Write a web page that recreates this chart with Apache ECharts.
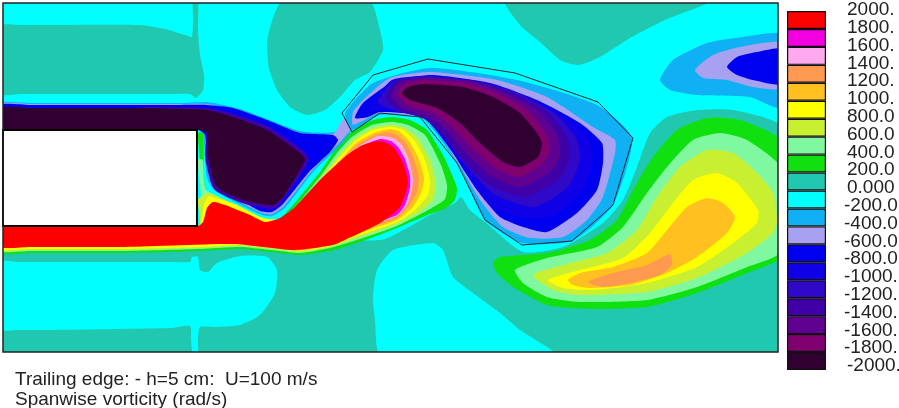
<!DOCTYPE html>
<html><head><meta charset="utf-8">
<style>html,body{margin:0;padding:0;background:#fff}#c{width:899px;height:408px}</style>
<script src="https://cdn.jsdelivr.net/npm/echarts@6/dist/echarts.min.js"></script>
</head><body><div id="c"></div>
<script>
const tickLabels=['2000.','1800.','1600.','1400.','1200.','1000.','800.0','600.0','400.0','200.0','0.000','-200.0','-400.0','-600.0','-800.0','-1000.','-1200.','-1400.','-1600.','-1800.','-2000.'];
const bandColors=['#ff0000','#f400e0','#ffaaee','#ff9950','#ffc020','#ffff00','#c8f030','#80f8a0','#10e010','#20c8b0','#00ffff','#10b0f4','#a8a0f0','#0000f0','#1000e8','#3008c8','#4000a8','#600090','#800070','#300030'];
const bandKeys=[1900,1700,1500,1300,1100,900,700,500,300,100,-100,-300,-500,-700,-900,-1100,-1300,-1500,-1700,-1900];

// contour outlines, in the picture's own x / y units
const cBase=[[0,0],[782,0],[782,356],[0,356]];
const cTealTL=[[0,26],[20,25],[40,25],[140,25],[165,29],[188,36],[192,37],[193,20],[193,0],[198,0],[198,30],[200,55],[204,75],[203,90],[196,98],[190,94],[170,94],[20,94],[0,94]];
const cTealTC=[[283,0],[273,18],[267,42],[269,68],[277,90],[290,107],[307,115],[325,110],[340,97],[355,80],[370,72],[383,50],[380,30],[369,0]];
const cTealTR=[[505,0],[520,25],[540,42],[560,60],[578,65],[600,57],[630,38],[665,20],[712,0]];
const cTealLow=[[0,245],[380,240],[430,215],[455,203],[461,197],[470,210],[485,222],[523,252],[563,247],[603,223],[623,200],[637,167],[650,133],[667,117],[697,110],[733,110],[782,128],[782,356],[0,356]];
const cCyanLL=[[0,262],[20,262],[170,262],[190,262],[192,257],[198,257],[200,270],[208,272],[217,263],[240,256],[267,257],[277,270],[275,293],[260,315],[240,325],[215,327],[200,327],[198,340],[198,356],[193,356],[191,340],[190,326],[170,328],[47,330],[20,330],[0,329]];
const cCyanLM=[[381,356],[375,320],[373,297],[377,270],[393,250],[433,243],[443,250],[453,277],[473,293],[500,313],[520,330],[557,356]];

const cGreen=[[0,253],[30,253],[120,253],[200,251],[240,249],[280,253],[300,255],[330,251],[363,241],[397,228],[430,214],[446,208],[455,200],[457,188],[450,170],[443,155],[427,130],[410,120],[390,117],[370,121],[350,133],[335,150],[320,172],[293,205],[278,220],[263,222],[235,208],[215,197],[206,190],[204,175],[203,133],[198,133],[198,226],[0,226]];
const cLightGreen=[[0,251],[30,251],[120,251],[200,249],[240,247],[280,251],[300,253],[330,248],[363,238],[397,226],[430,209],[445,199],[447,185],[441,165],[425,135],[408,125],[392,122],[372,125],[352,137],[337,153],[322,174],[295,207],[279,221],[263,220],[235,206],[215,195],[206,190],[204,180],[203,160],[198,160],[198,226],[0,226]];
const cLime=[[0,250],[30,250],[120,250],[200,248],[240,246],[280,250],[300,252],[330,247],[363,236],[397,224],[420,212],[433,200],[436,183],[430,160],[418,138],[405,128],[392,125],[372,128],[354,139],[339,155],[323,175],[296,208],[280,220],[263,219],[236,205],[216,196],[208,193],[203,195],[198,200],[198,226],[0,226]];
const cYellow=[[0,249],[30,249],[120,249],[200,247],[240,245],[280,249],[300,251],[330,246],[363,234],[397,222],[415,210],[428,195],[430,180],[424,158],[414,140],[403,130],[392,127],[373,130],[355,141],[340,157],[324,177],[297,209],[281,219],[263,218],[237,205],[215,198],[209,196],[204,205],[201,224],[198,226],[0,226]];
const cAmber=[[290,250],[330,245],[363,232],[397,220],[412,208],[421,193],[424,178],[418,157],[409,141],[400,132],[390,129],[374,133],[356,143],[341,159],[325,179],[298,210],[290,215]];
const cOrange=[[300,249],[330,244],[363,230],[397,218],[409,206],[417,192],[419,178],[413,157],[405,142],[397,135],[387,132],[375,135],[357,145],[342,161],[326,181],[300,210]];
const cPink=[[300,240],[330,243],[363,228],[397,216],[407,205],[412,190],[413,178],[408,157],[401,144],[393,138],[382,136],[375,137],[358,147],[343,163],[327,183],[302,210]];
const cMagenta=[[310,235],[332,242],[363,227],[397,215],[405,205],[410,188],[410,176],[405,159],[398,147],[391,141],[380,139],[360,147],[345,161],[328,180]];
const cRed=[[0,226],[198,226],[203,222],[207,208],[213,202],[225,205],[250,215],[265,222],[280,218],[295,207],[320,180],[347,155],[363,145],[380,141],[393,147],[403,163],[408,183],[400,207],[380,223],[347,239],[333,245],[293,250],[233,244],[120,247],[30,247],[0,247]];

const cGreen2=[[493,263],[500,257],[547,253],[590,240],[617,220],[633,190],[653,157],[677,130],[707,118],[740,120],[782,142],[782,256],[747,273],[697,293],[647,307],[590,309],[547,305],[513,287],[497,273]];
const cLightGreen2=[[515,270],[547,258],[597,247],[623,227],[647,193],[667,167],[693,140],[720,133],[747,140],[782,169],[782,251],[747,267],[697,287],[647,300],[580,302],[547,297],[523,283]];
const cLime2=[[533,275],[563,265],[607,253],[637,230],[657,197],[680,167],[707,150],[733,153],[757,173],[773,193],[777,220],[773,233],[747,253],[697,278],[647,292],[580,295],[553,290]];
const cYellow2=[[548,280],[580,270],[623,258],[650,233],[673,203],[693,180],[717,173],[737,183],[758,210],[757,223],[733,243],[697,267],[647,283],[593,290],[563,288]];
const cAmber2=[[568,280],[580,273],[613,267],[647,253],[667,230],[687,207],[707,198],[723,203],[735,217],[727,233],[697,257],[667,273],[630,285],[590,288],[573,285]];
const cOrange2=[[588,282],[613,273],[647,265],[670,254],[672,265],[660,275],[630,283],[603,287]];

const cSkyTR=[[660,80],[673,60],[707,43],[743,37],[782,35],[782,108],[750,97],[697,95],[670,90]];
const cLavTR=[[695,70],[713,55],[740,47],[782,43],[782,88],[753,87],[727,80],[703,78]];
const cBlueTR=[[727,67],[737,57],[757,52],[782,49],[782,84],[753,80],[737,75]];

const cSkyW=[[0,103],[30,103],[180,103],[207,102],[240,109],[267,119],[300,131],[335,132],[345,120],[352,112],[360,115],[345,140],[313,172],[285,208],[272,216],[262,215],[235,202],[214,190],[207,178],[203,133],[198,130],[0,130]];
const cLavW=[[0,104],[30,104],[180,104],[207,104],[240,111],[267,121],[300,133],[333,134],[343,120],[353,115],[356,122],[342,140],[311,172],[284,206],[272,214],[262,213],[236,200],[216,188],[209,177],[205,133],[198,130],[0,130]];
const cBlueW=[[0,105],[30,105],[180,105],[207,105],[233,108],[267,120],[300,133],[333,135],[338,140],[330,152],[309,172],[283,204],[272,212],[260,211],[237,198],[218,186],[210,175],[205,135],[198,130],[0,130]];
const cIndigoW=[[0,108],[30,108],[130,108],[153,107],[207,108],[233,114],[267,126],[300,148],[309,160],[290,190],[277,207],[270,209],[242,203],[214,189],[205,157],[204,130],[0,130]];
const cDarkW=[[0,108],[30,108],[130,108],[155,108],[207,110],[233,117],[267,130],[300,153],[305,160],[283,197],[273,205],[243,200],[217,187],[208,157],[207,133],[198,130],[0,130]];

const cSkyV=[[345,113],[373,83],[430,68],[517,80],[597,105],[632,138],[613,205],[572,241],[522,243],[485,220],[458,165],[422,118],[380,115],[352,130]];
const cLavV=[[353,112],[363,100],[390,78],[430,72],[497,80],[547,97],[593,127],[615,140],[615,153],[603,197],[587,220],[563,237],[530,238],[503,227],[480,200],[458,163],[427,120],[380,113],[353,125]];
const cBlueV=[[355,118],[363,103],[393,82],[430,75],[490,83],[537,100],[580,123],[602,143],[603,163],[597,190],[577,213],[547,232],[523,227],[500,217],[477,190],[453,153],[423,117],[380,112],[368,117]];
const cBlue2V=[[368,110],[392,80],[430,76],[485,83],[528,97],[570,120],[590,143],[592,165],[582,190],[555,215],[520,217],[490,205],[465,172],[445,140],[425,118],[385,110]];
const cIndigoV=[[378,102],[394,81],[427,76],[480,82],[518,93],[557,115],[577,140],[580,160],[568,187],[535,207],[495,195],[465,165],[443,135],[425,119],[390,109]];
const cPurpleV=[[386,97],[397,81],[425,77],[475,81],[510,92],[547,112],[567,137],[570,157],[558,180],[525,197],[490,185],[460,157],[440,132],[423,118],[398,110]];
const cPurple2V=[[391,95],[401,82],[423,78],[470,81],[503,92],[537,110],[557,135],[560,155],[550,172],[520,187],[490,175],[465,152],[446,130],[428,117],[402,108]];
const cMaroonV=[[397,94],[405,84],[423,80],[465,83],[497,93],[527,110],[547,135],[550,150],[543,163],[520,177],[498,170],[472,148],[452,127],[433,113],[408,105]];
const cDarkV=[[402,93],[408,87],[423,84],[463,87],[493,97],[520,113],[537,133],[542,143],[538,157],[520,167],[503,162],[480,143],[460,123],[437,108],[410,100]];

const blackOutline=[[342,113],[373,75],[428,59],[515,73],[598,102],[633,138],[613,205],[602,215],[572,241],[522,245],[485,220],[457,163],[420,117],[380,113],[352,132]];
const plateBox=[[3,130],[197,130],[197,226],[3,226]];
const frameBox=[[3,3],[778,3],[778,352],[3,352]];

// drawing order and band of each outline
const layers=[
 [cBase,-100],[cTealTL,100],[cTealTC,100],[cTealTR,100],[cTealLow,100],[cCyanLL,-100],[cCyanLM,-100],
 [cGreen,300],[cLightGreen,500],[cLime,700],[cYellow,900],[cAmber,1100],[cOrange,1300],[cPink,1500],[cMagenta,1700],[cRed,1900],
 [cGreen2,300],[cLightGreen2,500],[cLime2,700],[cYellow2,900],[cAmber2,1100],[cOrange2,1300],
 [cSkyTR,-300],[cLavTR,-500],[cBlueTR,-700],
 [cSkyW,-300],[cLavW,-500],[cBlueW,-700],[cIndigoW,-1300],[cDarkW,-1900],
 [cSkyV,-300],[cLavV,-500],[cBlueV,-700],[cBlue2V,-900],[cIndigoV,-1100],[cPurpleV,-1300],[cPurple2V,-1500],[cMaroonV,-1700],[cDarkV,-1900]
];
const colorOf=k=>bandColors[bandKeys.indexOf(k)];

const chart=echarts.init(document.getElementById('c'));
chart.setOption({
 animation:false,backgroundColor:'#fff',
 title:{text:'Trailing edge: - h=5 cm:  U=100 m/s\nSpanwise vorticity (rad/s)',left:10,top:365,
  textStyle:{fontFamily:'Liberation Sans',fontSize:19,fontWeight:'normal',color:'#222',lineHeight:20}},
 grid:[
  {left:3,top:3,width:775,height:349},
  {left:787,top:11,width:39,height:359},
  {left:844,top:10,width:1,height:356}
 ],
 xAxis:[
  {gridIndex:0,type:'value',min:3,max:778,show:false},
  {gridIndex:1,type:'value',min:0,max:1,show:false},
  {gridIndex:2,type:'value',min:0,max:1,show:false}
 ],
 yAxis:[
  {gridIndex:0,type:'value',min:3,max:352,inverse:true,show:false},
  {gridIndex:1,type:'category',inverse:true,data:bandKeys.map(String),show:false},
  {gridIndex:2,type:'category',inverse:true,boundaryGap:false,data:tickLabels,position:'left',
   axisLine:{show:false},axisTick:{show:false},
   axisLabel:{interval:0,inside:true,margin:0,align:'left',fontFamily:'Liberation Sans',fontSize:19,color:'#222',
    formatter:v=>(v[0]==='-'&&v!=='-2000.')?'{n|'+v+'}':'{p|'+v+'}',
    rich:{n:{fontFamily:'Liberation Sans',fontSize:19,color:'#222'},p:{fontFamily:'Liberation Sans',fontSize:19,color:'#222',padding:[0,0,0,3]}}}}
 ],
 series:[
  {type:'custom',xAxisIndex:0,yAxisIndex:0,clip:true,silent:true,z:2,data:layers.map((l,i)=>[i]),
   renderItem(p,api){const l=layers[api.value(0)];
    return {type:'polygon',shape:{points:l[0].map(q=>api.coord(q)),smooth:0.2},style:{fill:colorOf(l[1]),stroke:null}};}},
  {type:'custom',xAxisIndex:0,yAxisIndex:0,clip:false,silent:true,z:3,data:[[0]],
   renderItem(p,api){
    return {type:'polygon',shape:{points:blackOutline.map(q=>api.coord(q))},style:{fill:'none',stroke:'#1a2a30',lineWidth:1}};}},
  {type:'custom',xAxisIndex:0,yAxisIndex:0,clip:false,silent:true,z:4,data:[[0]],
   renderItem(p,api){
    return {type:'polygon',shape:{points:plateBox.map(q=>api.coord(q))},style:{fill:'#fff',stroke:'#000',lineWidth:2}};}},
  {type:'custom',xAxisIndex:0,yAxisIndex:0,clip:false,silent:true,z:5,data:[[0]],
   renderItem(p,api){
    return {type:'polygon',shape:{points:frameBox.map(q=>api.coord(q))},style:{fill:'none',stroke:'#222',lineWidth:1.5}};}},
  {type:'bar',xAxisIndex:1,yAxisIndex:1,barWidth:'100%',silent:true,
   data:bandKeys.map((k,i)=>({value:1,itemStyle:{color:bandColors[i],borderColor:'#111',borderWidth:1.2}}))},
  {type:'line',xAxisIndex:2,yAxisIndex:2,data:[],silent:true}
 ]
});
</script></body></html>
